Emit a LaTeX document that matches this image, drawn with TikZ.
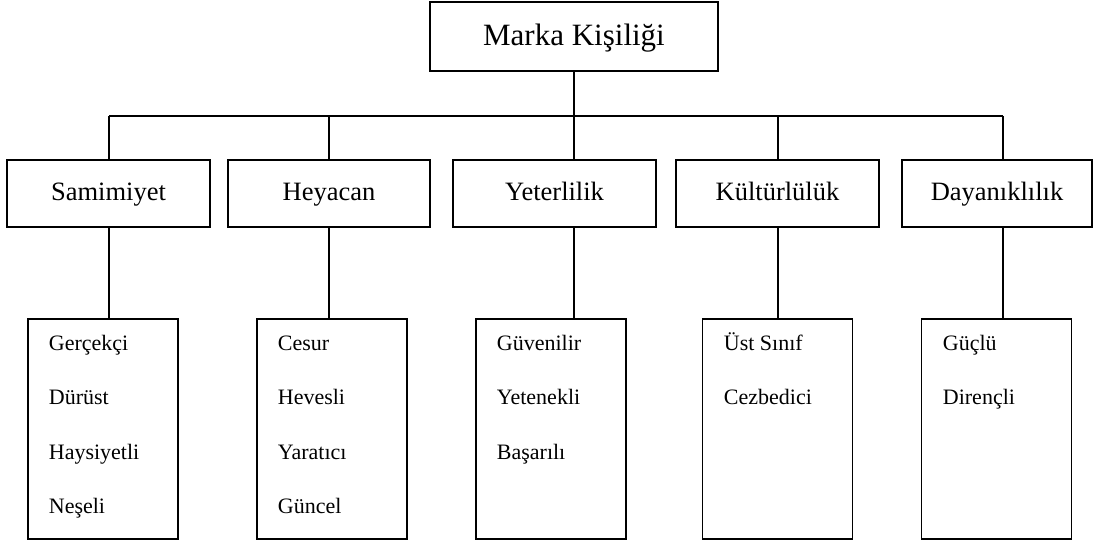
\documentclass[tikz,border=0pt]{standalone}
\usepackage{fontspec}
\setmainfont{Liberation Serif}
\begin{document}
\begin{tikzpicture}[x=1pt,y=-1pt,
  line width=1.8pt,
  box/.style={draw=black, line width=1.8pt, rectangle, inner sep=0pt},
  rootbox/.style={box, minimum width=288pt, minimum height=69pt,
    text height=24pt, text depth=5.6pt,
    font=\fontsize{31}{36}\selectfont},
  dimbox/.style={box, minimum height=67pt,
    text height=18pt, text depth=3.6pt,
    font=\fontsize{26.5}{31}\selectfont},
  traitbox/.style={box, minimum width=150pt, minimum height=220pt},
  trait/.style={anchor=base west, inner sep=0pt,
    font=\fontsize{22}{26}\selectfont}]
\useasboundingbox (0,0) rectangle (1097,545);

% root
\node[rootbox] (root) at (574,36.5) {Marka Kişiliği};

% dimension boxes
\node[dimbox, minimum width=203pt] (d1) at (108.5,193.5) {Samimiyet};
\node[dimbox, minimum width=202pt] (d2) at (329,193.5) {Heyacan};
\node[dimbox, minimum width=203pt] (d3) at (554.5,193.5) {Yeterlilik};
\node[dimbox, minimum width=203pt] (d4) at (777.5,193.5) {Kültürlülük};
\node[dimbox, minimum width=190pt] (d5) at (997,193.5) {Dayanıklılık};

% trait boxes
\node[traitbox] (t1) at (103,429) {};
\node[traitbox] (t2) at (332,429) {};
\node[traitbox] (t3) at (551,429) {};
\node[traitbox] (t4) at (777.5,429) {};
\node[traitbox] (t5) at (996.5,429) {};

% bus points
\coordinate (c1) at (109,116);
\coordinate (c2) at (329,116);
\coordinate (c3) at (574,116);
\coordinate (c4) at (778,116);
\coordinate (c5) at (1003,116);

% connectors
\draw (root.south) -- (c3);
\draw (c1) -- (c5);
\foreach \i in {1,...,5}{
  \draw (c\i) -- (d\i.north -| c\i);
  \draw (d\i.south -| c\i) -- (t\i.north -| c\i);
}

% traits
\node[trait] (s1) at (48,350) {Gerçekçi};
\node[trait] (s2) at (48,404) {Dürüst};
\node[trait] (s3) at (48,459) {Haysiyetli};
\node[trait] (s4) at (48,513) {Neşeli};

\node[trait] (h1) at (277,350) {Cesur};
\node[trait] (h2) at (277,404) {Hevesli};
\node[trait] (h3) at (277,459) {Yaratıcı};
\node[trait] (h4) at (277,513) {Güncel};

\node[trait] (y1) at (496,350) {Güvenilir};
\node[trait] (y2) at (496,404) {Yetenekli};
\node[trait] (y3) at (496,459) {Başarılı};

\node[trait] (k1) at (723,350) {Üst Sınıf};
\node[trait] (k2) at (723,404) {Cezbedici};

\node[trait] (g1) at (942,350) {Güçlü};
\node[trait] (g2) at (942,404) {Dirençli};
\end{tikzpicture}
\end{document}
